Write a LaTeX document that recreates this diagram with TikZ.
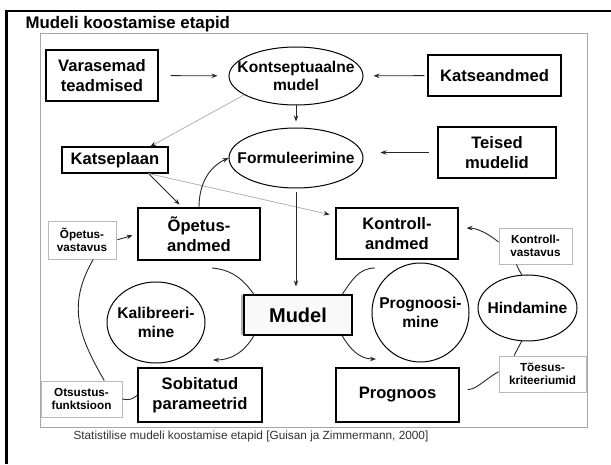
\documentclass[tikz,border=0pt]{standalone}
\usepackage{fontspec}
\setmainfont{Liberation Sans}
\usetikzlibrary{shapes.geometric,arrows.meta}

\begin{document}
\begin{tikzpicture}[x=1pt,y=1pt,
  box/.style={draw, line width=1.1pt, fill=white, align=center, inner sep=0pt,
    font=\bfseries\fontsize{16.6}{20}\selectfont},
  tag/.style={draw=gray!55, line width=0.9pt, fill=white, align=center, inner sep=0pt,
    font=\bfseries\fontsize{11.7}{13.3}\selectfont},
  oval/.style={ellipse, draw, line width=1pt, fill=white, inner sep=0pt},
  ovaltext/.style={align=center, inner sep=0pt, font=\bfseries\fontsize{15.6}{18.6}\selectfont},
  link/.style={line width=0.9pt, black!85},
  arr/.style={link, -{Stealth[length=6pt,width=4.5pt]}},
  faint/.style={line width=0.8pt, gray!60, -{Stealth[length=6pt,width=4.5pt,black!85]}}]
  \useasboundingbox (0,0) rectangle (611,464);
  \draw[line width=2.6pt] (6.5,0) -- (6.5,453) -- (611,453);
  \draw[gray!70, line width=1pt] (40,37) rectangle (587,430);
  \node[anchor=base west, font=\bfseries\fontsize{16.8}{20}\selectfont] (title) at (22,435.5) {Mudeli koostamise etapid};
  \node[anchor=base west, black!80, font=\fontsize{11.8}{14}\selectfont] (caption) at (70,24)
    {Statistilise mudeli koostamise etapid [Guisan ja Zimmermann, 2000]};

  \node[box, minimum width=112, minimum height=51] (vara) at (102,388.5) {Varasemad\\teadmised};
  \node[oval, minimum width=134, minimum height=58,
    label={[ovaltext]center:Kontseptuaalne\\mudel}] (konts) at (296,388) {};
  \node[box, minimum width=133, minimum height=41] (katse) at (494.5,388.5) {Katseandmed};
  \node[oval, minimum width=134, minimum height=60,
    label={[ovaltext]center:Formuleerimine}] (formul) at (296,306) {};
  \node[box, minimum width=118, minimum height=51] (teised) at (497,311.5) {Teised\\mudelid};
  \node[box, minimum width=106, minimum height=26] (plaan) at (115,304) {Katseplaan};
  \node[box, minimum width=122, minimum height=52] (opand) at (199,230) {Õpetus-\\andmed};
  \node[box, minimum width=122, minimum height=51] (kontand) at (397,230.5) {Kontroll-\\andmed};
  \node[tag, minimum width=68, minimum height=38] (opvast) at (82,224) {Õpetus-\\vastavus};
  \node[tag, minimum width=73, minimum height=36] (kontvast) at (535.5,218) {Kontroll-\\vastavus};
  \node[oval, minimum width=98, minimum height=81,
    label={[ovaltext]center:Kalibreeri-\\mine}] (kalib) at (156,141.5) {};
  \draw[gray!60, line width=3pt] (242.5,169) -- (242.5,129);
  \node[box, fill=gray!5, minimum width=108, minimum height=40,
    font=\bfseries\fontsize{20}{24}\selectfont] (mudel) at (298,149) {Mudel};
  \node[oval, minimum width=97, minimum height=99,
    label={[ovaltext]center:Prognoosi-\\mine}] (progmine) at (420.5,151.5) {};
  \node[oval, minimum width=99, minimum height=66,
    label={[ovaltext]center:Hindamine}] (hind) at (527.5,156) {};
  \node[box, minimum width=124, minimum height=54] (sobit) at (200,69) {Sobitatud\\parameetrid};
  \node[box, minimum width=123, minimum height=54] (prognoos) at (397.5,69) {Prognoos};
  \node[tag, minimum width=81, minimum height=36] (otsus) at (81.5,65) {Otsustus-\\funktsioon};
  \node[tag, minimum width=87, minimum height=36] (toesus) at (542.5,90) {Tõesus-\\kriteeriumid};

  \coordinate (calin) at (212,196);
  \coordinate (calout) at (213,104);
  \coordinate (prin) at (375,196);
  \coordinate (prout) at (376,105);

  \draw[arr, shorten <=12pt, shorten >=11pt] (vara) -- (konts);
  \draw[arr, shorten <=3pt, shorten >=10pt] (katse) -- (konts);
  \draw[arr, shorten >=6pt] (konts) -- (formul);
  \draw[arr, shorten <=8pt, shorten >=17pt] (teised.west) -- (teised.west -| formul.east);
  \draw[faint] (konts.200) -- (plaan.21);
  \draw[arr, shorten >=4pt] (plaan.-22) -- (opand.122);
  \draw[faint, shorten >=6pt] (plaan.-22) -- (kontand.164);
  \draw[arr] (opand.north) to[out=90, in=205] (formul.west);
  \draw[arr, shorten <=4pt, shorten >=8pt] (formul.south) -- (formul.south |- mudel.north);
  \draw[arr, shorten <=1pt, shorten >=5pt] (opvast.east) -- (opand.west);

  \draw[link] (calin) to[out=-5, in=125] (mudel.155);
  \draw[arr] (mudel.-155) to[out=-120, in=0] (calout);
  \draw[link] (prin) to[out=180, in=55] (mudel.25);
  \draw[arr] (mudel.-25) to[out=-60, in=180] (prout);

  \draw[link] (opvast.-60) to[out=-120, in=120, looseness=1.1] (otsus.39);
  \draw[link] (otsus.east) to[bend right=30] (sobit.west);
  \draw[link] (hind.100) -- (kontvast.-136);
  \draw[arr, shorten >=8pt] (kontvast.174) to[out=140, in=0] (kontand.5);
  \draw[link] (hind.-100) -- (toesus.147);
  \draw[link, shorten >=8pt] (toesus.177) to[out=-150, in=0] (prognoos.5);
\end{tikzpicture}
\end{document}
